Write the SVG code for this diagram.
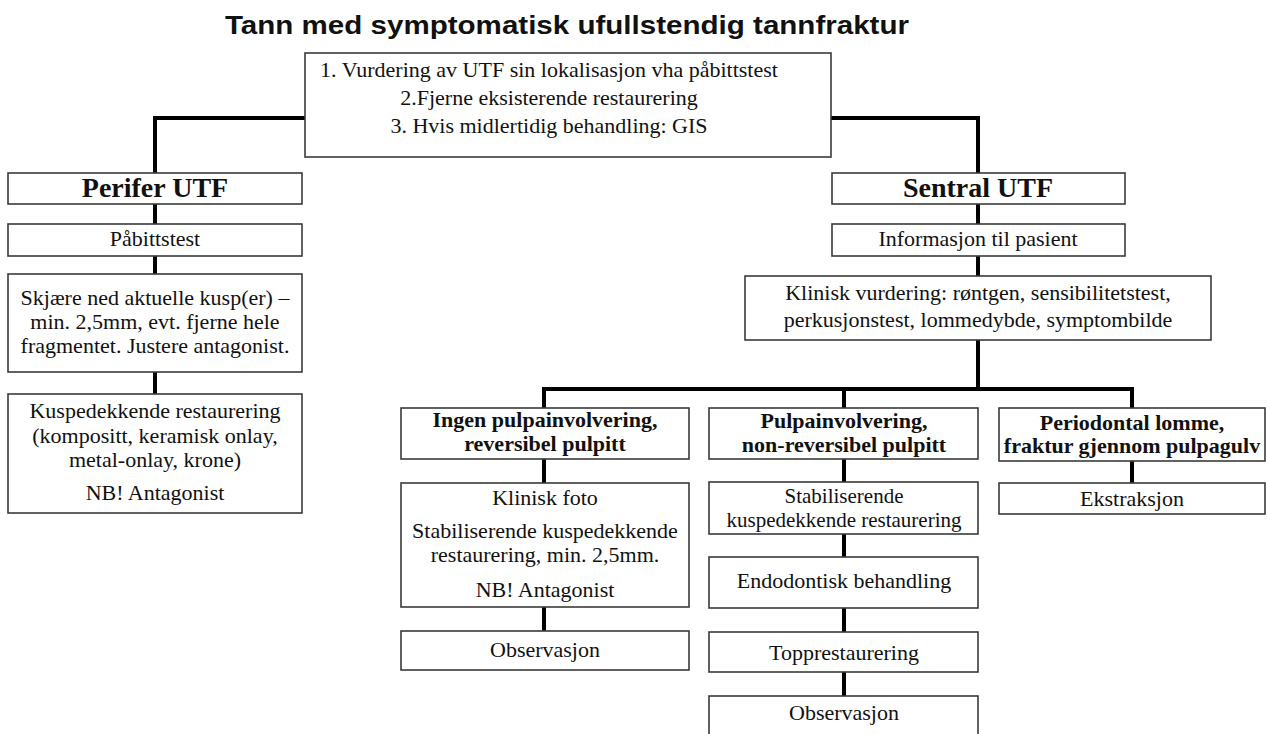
<svg xmlns="http://www.w3.org/2000/svg" width="1267" height="734" viewBox="0 0 1267 734">
<style>
.box{fill:#fff;stroke:#3a3a3a;stroke-width:1.6}
.t{font-family:"Liberation Serif","Times New Roman",serif;font-size:22px;fill:#111;text-anchor:middle}
.s{font-size:21px}
.b{font-weight:bold}
.h{font-family:"Liberation Serif","Times New Roman",serif;font-size:28px;font-weight:bold;fill:#111;text-anchor:middle}
.title{font-family:"Liberation Sans",Arial,sans-serif;font-size:25px;font-weight:bold;fill:#111;text-anchor:middle}
.c{fill:none;stroke:#000;stroke-width:4;stroke-linejoin:miter}
</style>
<rect width="1267" height="734" fill="#fff"/>
<text class="title" x="567" y="34" textLength="684" lengthAdjust="spacingAndGlyphs">Tann med symptomatisk ufullstendig tannfraktur</text>

<g id="connectors">
<path class="c" d="M305 118 H155 V173"/>
<path class="c" d="M831 118 H978 V173"/>
<path class="c" d="M155 204 V224 M155 256 V274 M155 372 V394"/>
<path class="c" d="M978 204 V224 M978 256 V276 M978 340 V389"/>
<path class="c" d="M544 408 V389 H1132 V408 M844 389 V408"/>
<path class="c" d="M544 459 V483 M544 607 V631"/>
<path class="c" d="M844 459 V482 M844 534 V557 M844 608 V632 M844 672 V696"/>
<path class="c" d="M1132 461 V483"/>
</g>

<g id="start">
<rect class="box" x="305" y="53" width="526" height="104"/>
<text class="t" x="549" y="77">1. Vurdering av UTF sin lokalisasjon vha påbittstest</text>
<text class="t" x="549" y="105">2.Fjerne eksisterende restaurering</text>
<text class="t" x="549" y="133">3. Hvis midlertidig behandling: GIS</text>
</g>

<g id="perifer">
<rect class="box" x="8" y="173" width="294" height="31"/>
<text class="h" x="155" y="197">Perifer UTF</text>
</g>
<g id="pabittstest">
<rect class="box" x="8" y="224" width="294" height="32"/>
<text class="t" x="155" y="246">Påbittstest</text>
</g>
<g id="skjaere">
<rect class="box" x="8" y="274" width="294" height="98"/>
<text class="t" x="155" y="305">Skjære ned aktuelle kusp(er) –</text>
<text class="t" x="155" y="329">min. 2,5mm, evt. fjerne hele</text>
<text class="t" x="155" y="353">fragmentet. Justere antagonist.</text>
</g>
<g id="kuspedekkende">
<rect class="box" x="8" y="394" width="294" height="119"/>
<text class="t" x="155" y="418">Kuspedekkende restaurering</text>
<text class="t" x="155" y="443">(kompositt, keramisk onlay,</text>
<text class="t" x="155" y="467">metal-onlay, krone)</text>
<text class="t" x="155" y="500">NB! Antagonist</text>
</g>

<g id="sentral">
<rect class="box" x="832" y="173" width="293" height="31"/>
<text class="h" x="978" y="197">Sentral UTF</text>
</g>
<g id="informasjon">
<rect class="box" x="832" y="224" width="293" height="32"/>
<text class="t" x="978" y="246">Informasjon til pasient</text>
</g>
<g id="klinisk-vurdering">
<rect class="box" x="745" y="276" width="466" height="64"/>
<text class="t" x="978" y="300">Klinisk vurdering: røntgen, sensibilitetstest,</text>
<text class="t" x="978" y="327">perkusjonstest, lommedybde, symptombilde</text>
</g>

<g id="ingen">
<rect class="box" x="401" y="408" width="288" height="51"/>
<text class="t b" x="545" y="427">Ingen pulpainvolvering,</text>
<text class="t b" x="545" y="451">reversibel pulpitt</text>
</g>
<g id="klinisk-foto">
<rect class="box" x="401" y="483" width="288" height="124"/>
<text class="t" x="545" y="505">Klinisk foto</text>
<text class="t" x="545" y="538">Stabiliserende kuspedekkende</text>
<text class="t" x="545" y="562">restaurering, min. 2,5mm.</text>
<text class="t" x="545" y="597">NB! Antagonist</text>
</g>
<g id="observasjon-1">
<rect class="box" x="401" y="631" width="288" height="39"/>
<text class="t" x="545" y="657">Observasjon</text>
</g>

<g id="pulpa">
<rect class="box" x="709" y="408" width="269" height="51"/>
<text class="t b" x="844" y="428">Pulpainvolvering,</text>
<text class="t b" x="844" y="452">non-reversibel pulpitt</text>
</g>
<g id="stabiliserende">
<rect class="box" x="709" y="482" width="269" height="52"/>
<text class="t s" x="844" y="503">Stabiliserende</text>
<text class="t s" x="844" y="527">kuspedekkende restaurering</text>
</g>
<g id="endodontisk">
<rect class="box" x="709" y="557" width="269" height="51"/>
<text class="t" x="844" y="588">Endodontisk behandling</text>
</g>
<g id="topprestaurering">
<rect class="box" x="709" y="632" width="269" height="40"/>
<text class="t" x="844" y="660">Topprestaurering</text>
</g>
<g id="observasjon-2">
<rect class="box" x="709" y="696" width="269" height="44"/>
<text class="t" x="844" y="720">Observasjon</text>
</g>

<g id="periodontal">
<rect class="box" x="999" y="408" width="266" height="53"/>
<text class="t b" x="1132" y="430">Periodontal lomme,</text>
<text class="t b" x="1132" y="453">fraktur gjennom pulpagulv</text>
</g>
<g id="ekstraksjon">
<rect class="box" x="999" y="483" width="266" height="31"/>
<text class="t" x="1132" y="506">Ekstraksjon</text>
</g>
</svg>
